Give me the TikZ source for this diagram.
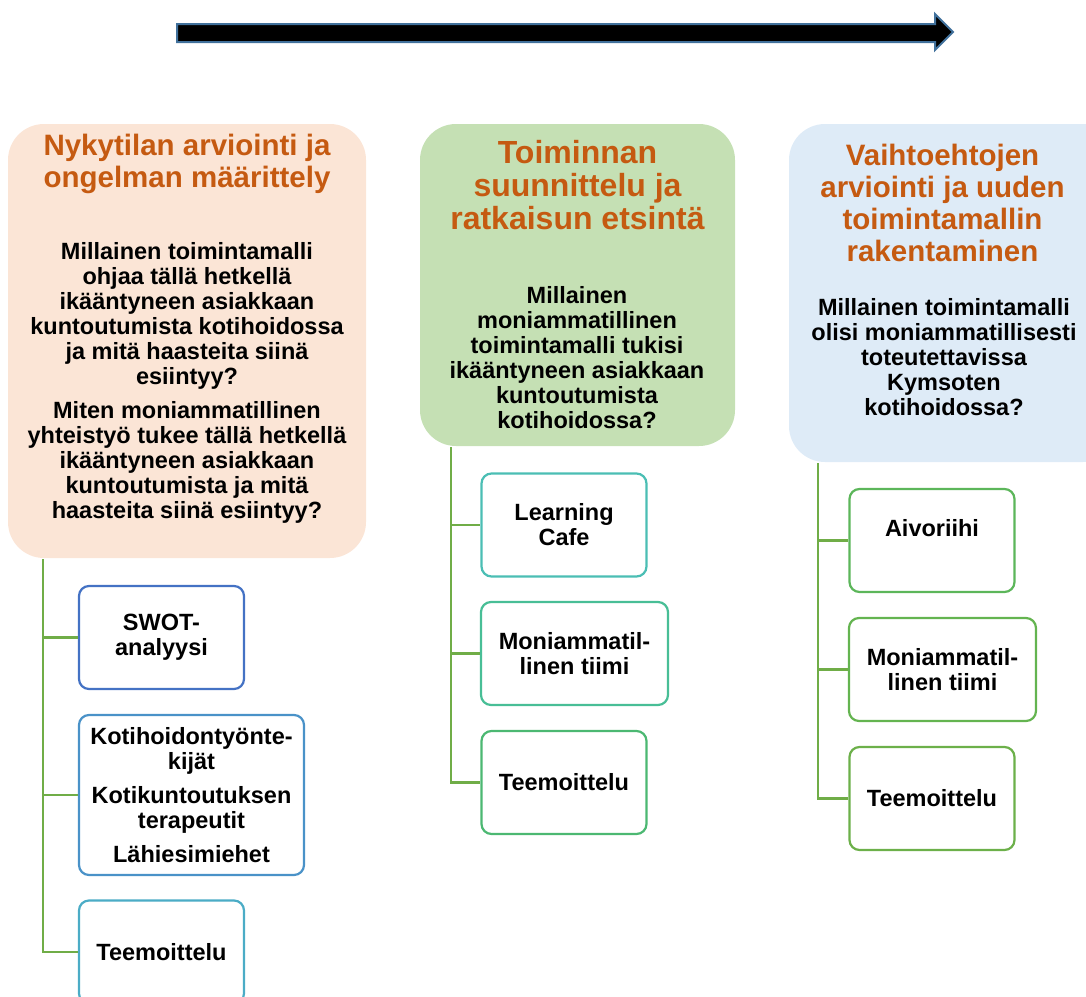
\documentclass[tikz,border=0pt]{standalone}
\usepackage{fontspec}
\setmainfont{Liberation Sans}
\usetikzlibrary{positioning}
\definecolor{ttl}{RGB}{197,90,17}
\definecolor{peach}{RGB}{251,229,214}
\definecolor{sage}{RGB}{197,224,180}
\definecolor{ice}{RGB}{222,235,247}
\definecolor{twig}{RGB}{112,173,71}
\definecolor{shaftedge}{RGB}{65,113,156}
\definecolor{s1}{RGB}{68,114,196}
\definecolor{s2}{RGB}{74,146,200}
\definecolor{s3}{RGB}{75,172,198}
\definecolor{s4}{RGB}{75,190,180}
\definecolor{s5}{RGB}{72,190,150}
\definecolor{s6}{RGB}{76,184,114}
\definecolor{s7}{RGB}{92,182,90}
\definecolor{s8}{RGB}{100,180,80}
\definecolor{s9}{RGB}{108,176,74}

\begin{document}
\begin{tikzpicture}[x=1pt,y=-1pt,
  phase/.style={rounded corners=36pt,inner sep=0pt},
  ttltxt/.style={font=\fontsize{29.5}{32}\selectfont\bfseries,
            text=ttl,align=center,inner sep=0pt},
  qtxt/.style={font=\fontsize{23.5}{25}\selectfont\bfseries,
            align=center,inner sep=0pt},
  sub/.style={draw,line width=2.2pt,rounded corners=10pt,fill=white,
            minimum width=165pt,minimum height=103pt,inner sep=0pt,
            font=\fontsize{23.5}{25}\selectfont\bfseries,align=center},
  twig/.style={draw=twig,line width=2.8pt}]
  \useasboundingbox (0,0) rectangle (1086,996);
  \clip (0,0) rectangle (1086,996);

  \draw[fill=black,draw=shaftedge,line width=2pt]
    (177,24) -- (935,24) -- (935,14) -- (953,32) -- (935,50)
    -- (935,42) -- (177,42) -- cycle;

  \node[phase,fill=peach,minimum width=358pt,minimum height=434pt] (ph1) at (187,341) {};
  \node[phase,fill=sage,minimum width=315pt,minimum height=322pt] (ph2) at (577.5,285) {};
  \node[phase,fill=ice,minimum width=330pt,minimum height=338pt] (ph3) at (954,293) {};

  \node[ttltxt] (t1) at (187,164) {Nykytilan arviointi ja\\ongelman määrittely};
  \node[qtxt] (q1) at (187,383) {Millainen toimintamalli\\ohjaa tällä hetkellä\\ikääntyneen asiakkaan\\kuntoutumista kotihoidossa\\ja mitä haasteita siinä\\esiintyy?\\[9pt]Miten moniammatillinen\\yhteistyö tukee tällä hetkellä\\ikääntyneen asiakkaan\\kuntoutumista ja mitä\\haasteita siinä esiintyy?};
  \node[ttltxt,font=\fontsize{32}{33}\selectfont\bfseries] (t2) at (577.5,185) {Toiminnan\\suunnittelu ja\\ratkaisun etsintä};
  \node[qtxt] (q2) at (577,357.5) {Millainen\\moniammatillinen\\toimintamalli tukisi\\ikääntyneen asiakkaan\\kuntoutumista\\kotihoidossa?};
  \node[ttltxt] (t3) at (942.5,202.5) {Vaihtoehtojen\\arviointi ja uuden\\toimintamallin\\rakentaminen};
  \node[qtxt] (q3) at (944,357.5) {Millainen toimintamalli\\olisi moniammatillisesti\\toteutettavissa\\Kymsoten\\kotihoidossa?};

  \node[sub,draw=s1] (swot) at (161.5,637.5) {SWOT-\\analyysi};
  \node[sub,draw=s2,minimum width=225pt,minimum height=160pt] (koti) at (191.5,795)
    {Kotihoidontyönte-\\kijät\\[9pt]Kotikuntoutuksen\\terapeutit\\[9pt]Lähiesimiehet};
  \node[sub,draw=s3] (teem1) at (161.5,952) {Teemoittelu};

  \node[sub,draw=s4] (cafe) at (564,525) {Learning\\Cafe};
  \node[sub,draw=s5,minimum width=187pt] (moni2) at (574.5,653.5) {Moniammatil-\\linen tiimi};
  \node[sub,draw=s6] (teem2) at (564,782.5) {Teemoittelu};

  \node[sub,draw=s7] (aivo) at (932,540.5) {Aivoriihi\\~};
  \node[sub,draw=s8,minimum width=187pt] (moni3) at (942.5,669.5) {Moniammatil-\\linen tiimi};
  \node[sub,draw=s9] (teem3) at (932,798.5) {Teemoittelu};

  \coordinate (k1) at (43,559);
  \coordinate (k2) at (451,447);
  \coordinate (k3) at (818,463);
  \draw[twig] (k1) |- (swot);
  \draw[twig] (k1) |- (koti);
  \draw[twig] (k1) |- (teem1);
  \draw[twig] (k2) |- (cafe);
  \draw[twig] (k2) |- (moni2);
  \draw[twig] (k2) |- (teem2);
  \draw[twig] (k3) |- (aivo);
  \draw[twig] (k3) |- (moni3);
  \draw[twig] (k3) |- (teem3);
\end{tikzpicture}
\end{document}
